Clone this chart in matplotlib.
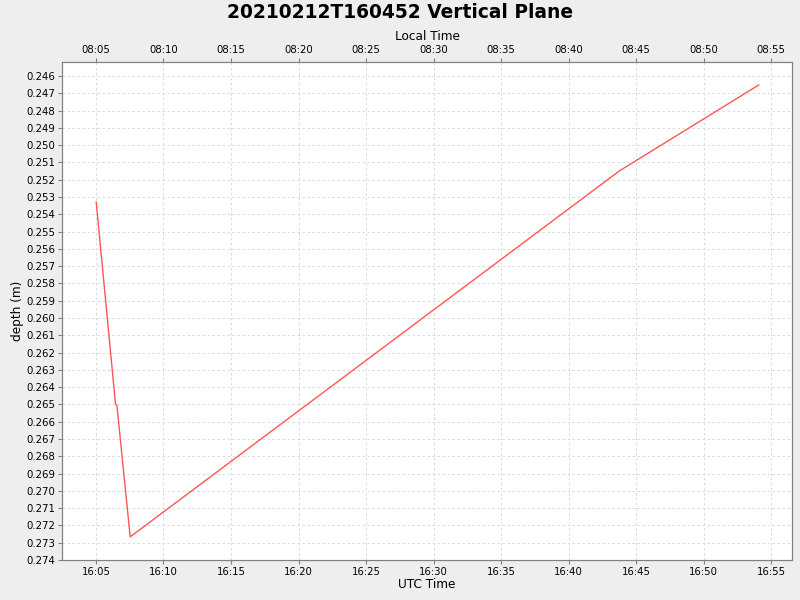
import matplotlib
matplotlib.use("Agg")
import matplotlib.pyplot as plt
import matplotlib.dates as mdates
import matplotlib.ticker as mticker
from datetime import datetime, timedelta

# Data (UTC times and depth)
times_utc = ["2021-02-12 16:05:01", "2021-02-12 16:06:27", "2021-02-12 16:06:33",
             "2021-02-12 16:07:32", "2021-02-12 16:43:46", "2021-02-12 16:54:05"]
depth = [0.25329, 0.26500, 0.26505, 0.27266, 0.25149, 0.24652]
local_offset_hours = -8
title = "20210212T160452 Vertical Plane"

t = [datetime.strptime(s, "%Y-%m-%d %H:%M:%S") for s in times_utc]

plt.rcParams['font.family'] = ['DejaVu Sans']
fig = plt.figure(figsize=(8, 6), dpi=100, facecolor="#EEEEEE")
L, R, T, B = 62, 792, 62, 560
ax = fig.add_axes([L/800, 1 - B/600, (R-L)/800, (B-T)/600])
ax.set_facecolor("white")

ax.plot(t, depth, color="#FF5555", linewidth=1.0)

xmin = datetime(2021, 2, 12, 16, 2, 29)
xmax = datetime(2021, 2, 12, 16, 56, 33)
ax.set_xlim(xmin, xmax)
ax.set_ylim(0.274, 0.24519)

ax.yaxis.set_major_locator(mticker.MultipleLocator(0.001))
ax.yaxis.set_major_formatter(mticker.FormatStrFormatter("%.3f"))
ax.xaxis.set_major_locator(mdates.MinuteLocator(byminute=range(0, 60, 5)))
ax.xaxis.set_major_formatter(mdates.DateFormatter("%H:%M"))

grid_kw = dict(color="#D4D4D4", linestyle=(0, (3, 3)), linewidth=0.6)
ax.grid(True, **grid_kw)

for sp in ax.spines.values():
    sp.set_color("#808080")
ax.tick_params(axis="both", labelsize=7.3, colors="#808080", labelcolor="black",
               length=3, width=0.8, direction="out", pad=2)

ax.set_xlabel("UTC Time", fontsize=8.7)
ax.xaxis.set_label_coords(0.5, (B - 585) / (B - T))
ax.xaxis.label.set_va("center")
ax.set_ylabel("depth (m)", fontsize=8.7)
ax.yaxis.set_label_coords((18 - L) / (R - L), 0.5)
ax.yaxis.label.set_va("center")

# Top axis: local time
ax2 = ax.twiny()
off = timedelta(hours=local_offset_hours)
ax2.set_xlim(xmin + off, xmax + off)
ax2.xaxis.set_major_locator(mdates.MinuteLocator(byminute=range(0, 60, 5)))
ax2.xaxis.set_major_formatter(mdates.DateFormatter("%H:%M"))
ax2.tick_params(axis="x", labelsize=7.3, colors="#808080", labelcolor="black",
                length=3, width=0.8, direction="out", pad=2)
for sp in ax2.spines.values():
    sp.set_color("#808080")
ax2.set_xlabel("Local Time", fontsize=8.7)
ax2.xaxis.set_label_coords(0.5, (B - 36) / (B - T))
ax2.xaxis.label.set_va("center")

fig.text(0.5, 1 - 12/600, title, ha="center", va="center",
         fontsize=13.4, fontweight="bold")

fig.savefig("out.png", dpi=100, facecolor=fig.get_facecolor())
